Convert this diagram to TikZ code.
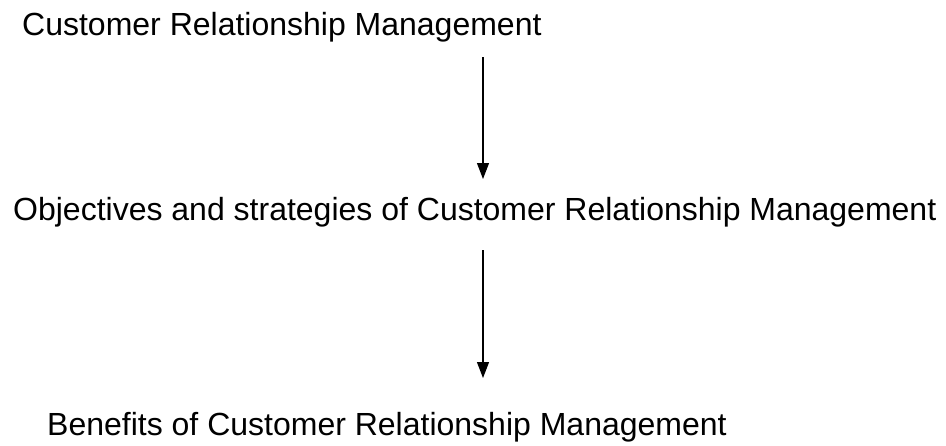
\documentclass[tikz,border=0pt]{standalone}
\usepackage{fontspec}
\setmainfont{Liberation Sans}
\usetikzlibrary{arrows.meta}

\begin{document}
\begin{tikzpicture}[x=1pt, y=-1pt, >={Triangle[length=16pt,width=12pt]},
    every node/.style={inner sep=0pt, anchor=base west, font=\fontsize{32}{38}\selectfont}]
    \useasboundingbox (0,0) rectangle (946,445);
    \node (crm) at (22, 35) {Customer Relationship Management};
    \node (obj) at (13, 220) {Objectives and strategies of Customer Relationship Management};
    \node (ben) at (47, 435) {Benefits of Customer Relationship Management};
    \coordinate (crm-out) at (483, 57);
    \coordinate (obj-in) at (483, 179);
    \coordinate (obj-out) at (483, 250);
    \coordinate (ben-in) at (483, 378);
    \draw [->, line width=1.2pt] (crm-out) to (obj-in);
    \draw [->, line width=1.2pt] (obj-out) to (ben-in);
\end{tikzpicture}
\end{document}
